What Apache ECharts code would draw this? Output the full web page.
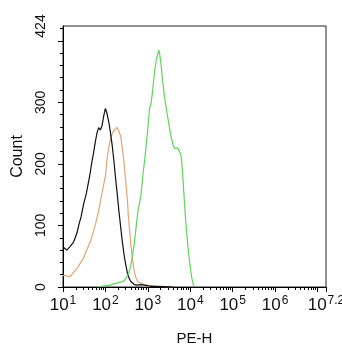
<!DOCTYPE html>
<html>
<head>
<meta charset="utf-8">
<script src="https://cdn.jsdelivr.net/npm/echarts@6/dist/echarts.min.js"></script>
<style>
  html, body { margin: 0; padding: 0; background: #fff; }
  #chart { width: 342px; height: 350px; }
</style>
</head>
<body>
<div id="chart"></div>
<script>
// x values are decades (log10 of PE-H), y values are counts
const controlLog = [1.00, 1.04, 1.09, 1.17, 1.25, 1.33, 1.37, 1.43, 1.48, 1.55, 1.60, 1.64, 1.68, 1.72, 1.76, 1.80, 1.84, 1.86, 1.88, 1.92, 1.96, 2.00, 2.04, 2.08, 2.12, 2.16, 2.20, 2.24, 2.28, 2.32, 2.36, 2.40, 2.44, 2.48, 2.52, 2.56, 2.60, 2.64, 2.68, 2.76, 2.84, 2.92, 3.00, 3.10, 3.20, 3.40, 3.60];
const controlCount = [65, 62, 60, 66, 73, 88, 100, 115, 133, 152, 170, 185, 203, 218, 235, 250, 259, 262, 255, 262, 278, 290, 281, 268, 250, 230, 205, 176, 150, 122, 97, 73, 52, 36, 22, 14, 9, 6, 4, 3, 4, 3, 2, 1, 1, 0.5, 0];

const isotypeLog = [1.00, 1.04, 1.09, 1.17, 1.25, 1.33, 1.40, 1.48, 1.56, 1.64, 1.70, 1.76, 1.82, 1.88, 1.94, 2.00, 2.04, 2.08, 2.12, 2.16, 2.20, 2.24, 2.28, 2.30, 2.32, 2.36, 2.40, 2.44, 2.48, 2.52, 2.54, 2.60, 2.64, 2.68, 2.72, 2.76, 2.84, 2.92, 3.00, 3.04, 3.20, 3.40, 3.60];
const isotypeCount = [19, 20, 18, 17, 24, 30, 38, 46, 60, 73, 86, 100, 118, 138, 160, 180, 209, 228, 241, 249, 254, 252, 259, 262, 257, 245, 225, 200, 170, 140, 116, 68, 45, 25, 15, 9, 6, 4, 3, 2, 1, 0.5, 0];

const stainedLog = [1.80, 1.90, 2.00, 2.12, 2.20, 2.30, 2.36, 2.44, 2.48, 2.52, 2.56, 2.60, 2.64, 2.68, 2.72, 2.76, 2.80, 2.84, 2.88, 2.92, 2.96, 3.00, 3.04, 3.08, 3.12, 3.16, 3.20, 3.24, 3.26, 3.28, 3.31, 3.35, 3.39, 3.43, 3.47, 3.51, 3.55, 3.59, 3.63, 3.67, 3.70, 3.73, 3.76, 3.79, 3.83, 3.87, 3.91, 3.95, 3.97, 4.00, 4.03, 4.06, 4.09];
const stainedCount = [0, 1, 2, 3, 5, 7, 8, 10, 14, 18, 25, 35, 52, 70, 95, 120, 135, 150, 180, 203, 230, 257, 290, 300, 324, 350, 370, 380, 385, 378, 362, 335, 310, 292, 275, 259, 243, 232, 225, 222, 226, 224, 218, 211, 173, 130, 92, 62, 49, 33, 17, 7, 0];

const xLabelDecades = [1, 2, 3, 4, 5, 6, 7.2];
const xMajorTicks = [1, 2, 3, 4, 5, 6, 7, 7.2];
const yLabelValues = [0, 100, 200, 300, 424];
const yMajorTicks = [0, 100, 200, 300, 400];

const FONT = "Liberation Sans, Arial, sans-serif";

const pairs = (xs, ys) => xs.map((x, i) => [x, ys[i]]);

// minor log ticks 2..9 in each decade
const xMinorTicks = [];
for (let d = 1; d < 7; d++) {
  for (let k = 2; k <= 9; k++) xMinorTicks.push(d + Math.log10(k));
}
const yMinorTicks = [];
for (let v = 20; v < 424; v += 20) if (v % 100 !== 0) yMinorTicks.push(v);

const hidden = { show: false };
const chart = echarts.init(document.getElementById("chart"));
chart.setOption({
  animation: false,
  grid: {
    left: 63, right: 16, top: 26, bottom: 63, outerBoundsMode: "none",
    show: true, borderColor: "#222", borderWidth: 1
  },
  xAxis: [
    {
      type: "value", min: 1, max: 7.2,
      name: "PE-H", nameLocation: "middle", nameGap: 44,
      nameTextStyle: { fontFamily: FONT, fontSize: 15, color: "#111" },
      axisLine: { show: true, lineStyle: { color: "#000", width: 1 } },
      axisTick: { show: true, length: 5, customValues: xMajorTicks, lineStyle: { color: "#000" } },
      axisLabel: {
        customValues: xLabelDecades, margin: 8,
        formatter: v => "{b|10}{s|" + v + "}",
        rich: {
          b: { fontFamily: FONT, fontSize: 17, color: "#111" },
          s: { fontFamily: FONT, fontSize: 12, color: "#111", padding: [0, 0, 9, 1] }
        }
      },
      splitLine: hidden
    },
    {
      type: "value", min: 1, max: 7.2, position: "bottom",
      axisLine: hidden, axisLabel: hidden, splitLine: hidden,
      axisTick: { show: true, length: 3, customValues: xMinorTicks, lineStyle: { color: "#000" } }
    }
  ],
  yAxis: [
    {
      type: "value", min: 0, max: 424,
      name: "Count", nameLocation: "middle", nameGap: 37, nameRotate: 90,
      nameTextStyle: { fontFamily: FONT, fontSize: 16, color: "#111" },
      axisLine: { show: true, lineStyle: { color: "#000", width: 1 } },
      axisTick: { show: true, length: 5, customValues: yMajorTicks, lineStyle: { color: "#000" } },
      axisLabel: {
        customValues: yLabelValues, rotate: 90, margin: 15,
        fontFamily: FONT, fontSize: 14, color: "#111"
      },
      splitLine: hidden
    },
    {
      type: "value", min: 0, max: 424, position: "left",
      axisLine: hidden, axisLabel: hidden, splitLine: hidden,
      axisTick: { show: true, length: 3, customValues: yMinorTicks, lineStyle: { color: "#000" } }
    }
  ],
  series: [
    { name: "Isotype", type: "line", data: pairs(isotypeLog, isotypeCount), showSymbol: false,
      lineStyle: { color: "#e3a574", width: 1.2 } },
    { name: "Control", type: "line", data: pairs(controlLog, controlCount), showSymbol: false,
      lineStyle: { color: "#111", width: 1.2 } },
    { name: "Stained", type: "line", data: pairs(stainedLog, stainedCount), showSymbol: false,
      lineStyle: { color: "#5ed65a", width: 1.2 } }
  ]
});
</script>
</body>
</html>
